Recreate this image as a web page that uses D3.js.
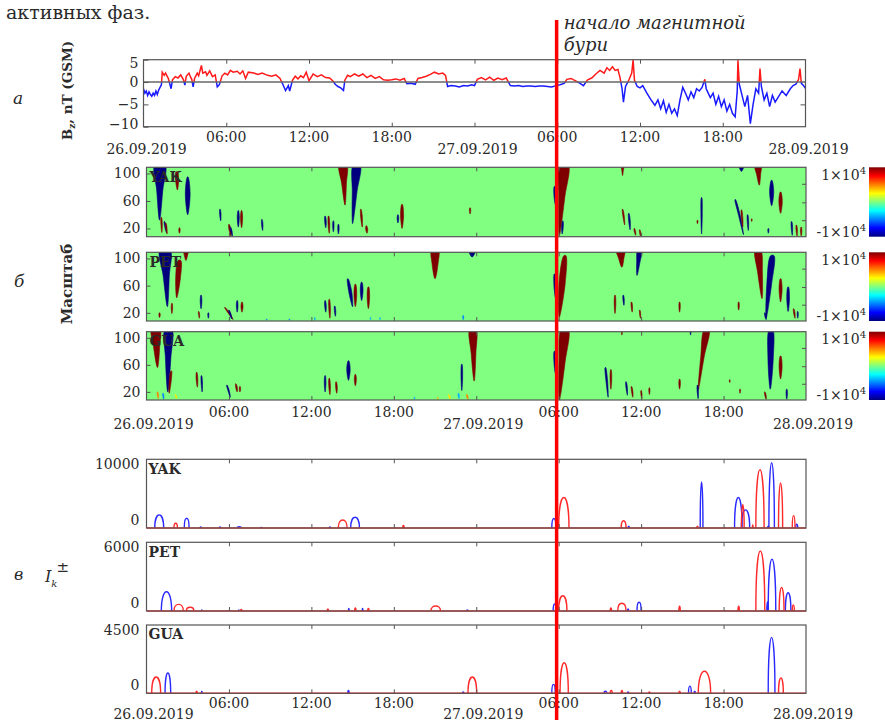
<!DOCTYPE html>
<html>
<head>
<meta charset="utf-8">
<script src="https://cdn.jsdelivr.net/npm/d3@7"></script>
<style>
body { margin: 0; background: #fff; }
svg { display: block; }
text { font-family: "DejaVu Serif", serif; fill: #2a2a2a; }
</style>
</head>
<body>
<svg id="chart" width="885" height="720"></svg>
<script>
// ---- data ----
var hours = [0, 48];
var timeTicks = [6, 12, 18, 30, 36, 42];
var timeLabels = ['06:00', '12:00', '18:00', '06:00', '12:00', '18:00'];
var dateTicks = [0, 24, 48];
var dateLabels = ['26.09.2019', '27.09.2019', '28.09.2019'];
var stations = ['YAK', 'PET', 'GUA'];
var stormStart = 29.85;   // hours from 26.09 00:00

// panel a: Bz, nT (GSM), [hour, value]
var bzTicks = [5, 0, -5, -10];
var bz = [
	[0,-1.5],[0.1,-2.5],[0.2,-2.0],[0.3,-3.0],[0.4,-2.2],[0.5,-2.8],[0.6,-3.2],[0.7,-2.5],[0.8,-3.0],[0.9,-2.0],
	[1.0,-2.8],[1.1,-1.8],[1.2,-1.2],[1.3,-0.6],[1.36,2.2],[1.5,1.5],[1.6,2.0],[1.8,0.8],[2.0,-1.5],[2.1,0.5],
	[2.3,1.2],[2.5,0.9],[2.7,1.6],[2.9,0.5],[3.0,-0.7],[3.1,1.3],[3.3,2.0],[3.4,1.2],[3.5,0.6],[3.6,-1.1],
	[3.7,0.8],[3.9,2.0],[4.0,1.4],[4.2,3.7],[4.3,2.0],[4.5,2.3],[4.6,1.5],[4.8,2.5],[5.0,1.2],[5.2,1.6],
	[5.35,-1.1],[5.5,-0.6],[5.7,1.4],[5.9,2.0],[6.1,1.6],[6.3,2.6],[6.5,2.2],[6.8,2.4],[7.0,1.8],[7.2,2.5],
	[7.4,0.8],[7.6,2.2],[8.0,2.0],[8.3,1.7],[8.6,2.0],[9.0,1.5],[9.3,1.3],[9.6,1.6],[9.9,0.8],[10.1,-0.5],
	[10.3,-1.9],[10.5,-0.8],[10.6,-2.0],[10.8,0.4],[11.0,1.3],[11.2,0.7],[11.4,1.4],[11.6,1.0],[11.8,2.2],[12.0,0.3],
	[12.3,1.8],[12.6,1.2],[12.9,1.6],[13.2,1.0],[13.5,0.9],[13.75,0.2],[13.9,-0.5],[14.1,-1.0],[14.3,-1.3],[14.5,-1.9],
	[14.6,0.4],[14.8,1.5],[15.0,1.2],[15.3,1.8],[15.6,1.3],[15.9,1.8],[16.2,1.0],[16.5,1.5],[16.8,0.8],[17.1,1.2],
	[17.4,0.5],[17.7,0.4],[18.0,0.5],[18.3,0.7],[18.6,0.4],[18.9,0.8],[19.1,-0.4],[19.4,-0.3],[19.7,-0.5],[19.9,0.8],
	[20.2,1.0],[20.5,1.3],[20.8,1.7],[21.1,2.2],[21.4,1.8],[21.7,2.0],[21.9,1.5],[22.05,-1.0],[22.3,-0.8],[22.6,-0.9],
	[22.9,-1.1],[23.2,-0.8],[23.5,-0.9],[23.8,-0.6],[24.0,-0.8],[24.2,0.6],[24.5,1.0],[24.8,0.5],[25.1,1.1],[25.4,0.4],
	[25.7,0.9],[26.0,0.5],[26.3,0.9],[26.6,-0.8],[26.9,-0.9],[27.2,-0.8],[27.5,-1.0],[27.8,-0.9],[28.1,-0.9],[28.4,-1.0],
	[28.7,-0.9],[29.0,-0.9],[29.3,-1.0],[29.6,-1.1],[29.9,-0.8],[30.2,-0.6],[30.5,-0.3],[30.7,0.6],[31.0,0.8],[31.3,0.3],
	[31.6,-0.2],[31.9,-0.8],[32.2,0.5],[32.5,0.9],[32.8,1.8],[33.1,2.6],[33.4,2.0],[33.6,3.2],[33.8,2.6],[34.0,3.4],
	[34.2,2.6],[34.4,2.8],[34.55,1.0],[34.7,-1.5],[34.8,-4.5],[34.95,-1.0],[35.2,0.5],[35.4,2.0],[35.5,4.9],[35.6,0.4],
	[35.8,-1.0],[36.0,-1.3],[36.2,-0.8],[36.5,-2.5],[36.8,-4.0],[37.08,-5.2],[37.3,-4.0],[37.5,-6.0],[37.7,-4.2],[37.9,-6.8],
	[38.1,-5.0],[38.3,-7.0],[38.5,-6.0],[38.7,-7.5],[38.9,-4.0],[39.1,-1.2],[39.3,-2.5],[39.5,-4.0],[39.7,-2.2],[39.9,-3.5],
	[40.1,-1.5],[40.3,-2.0],[40.5,-1.2],[40.7,0.6],[40.8,-1.5],[41.1,-3.5],[41.3,-2.5],[41.5,-5.0],[41.7,-3.2],[41.9,-5.5],
	[42.1,-4.0],[42.3,-6.5],[42.5,-5.0],[42.7,-7.0],[42.9,-7.8],[43.05,-2.0],[43.1,4.9],[43.2,-0.5],[43.4,-3.0],[43.6,-5.5],
	[43.8,-3.0],[44.0,-9.3],[44.2,-5.0],[44.4,-1.5],[44.6,-2.5],[44.7,3.0],[44.8,-1.0],[45.0,-4.0],[45.2,-2.5],[45.4,-5.5],
	[45.6,-3.0],[45.8,-4.5],[46.0,-3.5],[46.3,-2.0],[46.6,-3.0],[46.9,-1.5],[47.1,-0.8],[47.3,-0.5],[47.5,0.6],[47.6,3.0],
	[47.7,-0.3],[47.85,-0.8],[48.0,-1.4]
];

// panel b: wavelet scale spectrograms
// [hour at top, hour at bottom, scale top, scale bottom, width at top (h), width mid (h), value -1..1]
var scaleTicks = [20, 60, 100];
var scaleRightTicks = [32, 58, 85];
var spectroYAK = [
	[0.98,0.95,112,32,0.75,0.45,-1],[2.2,2.25,102,76,0.12,0.22,1],[3.0,3.0,95,40,0.05,0.35,-1],
	[1.08,1.12,36,14,0.03,0.1,1],[1.3,1.45,30,14,0.03,0.1,-1],[1.4,1.5,28,12,0.03,0.08,1],[2.4,2.4,21,13,0.03,0.1,1],
	[5.35,5.4,48,31,0.03,0.1,-1],[6.0,6.15,26,9,0.03,0.15,1],[6.1,6.25,22,9,0.03,0.1,-1],[6.68,6.68,46,22,0.03,0.15,-1],
	[6.92,6.92,46,21,0.03,0.15,1],[8.4,8.45,33,17,0.03,0.1,-1],[13.0,13.05,38,21,0.03,0.12,-1],[13.25,13.3,38,13,0.03,0.12,1],
	[13.6,13.6,31,15,0.03,0.1,-1],[13.97,13.97,26,12,0.03,0.1,-1],[14.3,14.45,112,54,0.55,0.35,1],[15.3,15.0,112,27,0.5,0.35,-1],
	[15.6,15.7,48,22,0.03,0.12,1],[16.0,16.05,24,13,0.03,0.15,1],[18.3,18.3,40,28,0.03,0.12,-1],[18.6,18.6,55,20,0.05,0.22,1],
	[23.55,23.55,50,41,0.03,0.1,1],[29.7,29.75,81,55,0.05,0.15,-1],[30.4,30.05,112,10,0.6,0.45,1],[30.3,30.25,31,12,0.03,0.12,-1],
	[34.65,34.65,112,97,0.2,0.12,1],[34.65,34.8,48,25,0.03,0.1,1],[35.1,35.2,42,18,0.03,0.12,-1],[35.5,35.6,20,10,0.03,0.1,1],
	[35.9,35.95,18,9,0.03,0.08,1],[40.1,40.1,32,27,0.03,0.08,1],[40.4,40.4,65,12,0.03,0.1,-1],[43.3,43.3,112,103,0.5,0.3,-1],
	[44.5,44.6,112,83,0.45,0.3,1],[42.85,43.45,62,11,0.04,0.12,-1],[43.3,43.4,47,22,0.03,0.1,1],[43.75,43.8,40,17,0.03,0.1,-1],
	[44.05,44.05,34,30,0.03,0.06,1],[45.5,45.5,90,53,0.05,0.3,-1],[45.26,45.26,20,13,0.03,0.08,-1],[46.15,46.15,73,42,0.05,0.25,1],
	[46.95,47.0,30,10,0.03,0.1,-1],[47.3,47.35,25,9,0.03,0.1,1],[47.65,47.65,22,9,0.03,0.1,1]
];
var spectroPET = [
	[1.35,1.52,112,29,0.75,0.45,-1],[2.4,2.2,97,42,0.2,0.35,1],[2.87,2.87,112,97,0.35,0.25,1],[1.85,1.85,34,19,0.03,0.1,1],
	[0.95,0.95,20,13,0.03,0.1,1],[3.97,3.97,46,26,0.03,0.12,-1],[3.8,3.85,22,12,0.03,0.08,1],[4.5,4.5,20,12,0.03,0.08,-1],
	[5.7,6.3,28,10,0.03,0.12,1],[6.0,6.2,24,11,0.03,0.1,-1],[6.6,6.6,38,21,0.03,0.12,-1],[6.95,6.95,36,21,0.03,0.15,1],
	[8.75,8.75,11,9,0.03,0.06,-0.5],[10.4,10.4,11,9,0.03,0.06,-0.5],[12.25,12.25,13,9,0.03,0.06,-0.4],[13.0,13.05,38,21,0.03,0.12,-1],
	[13.3,13.35,40,12,0.03,0.12,1],[13.7,13.75,30,15,0.03,0.1,-1],[14.65,15.0,70,29,0.05,0.22,-1],[15.2,15.2,62,29,0.05,0.2,1],
	[15.66,15.66,65,38,0.05,0.2,-1],[16.15,16.15,58,26,0.05,0.18,1],[16.3,16.3,13,10,0.03,0.06,-0.4],[17.0,17.0,13,10,0.03,0.06,-0.4],
	[21.0,21.0,112,70,0.5,0.45,1],[23.7,23.7,112,102,0.6,0.4,-1],[23.05,23.05,16,10,0.03,0.08,-0.5],[29.7,29.75,77,43,0.05,0.15,-1],
	[30.45,30.05,104,14,0.15,0.45,1],[34.5,34.6,112,87,0.6,0.4,1],[35.9,35.7,112,75,0.3,0.25,-1],[34.1,34.1,46,19,0.03,0.12,1],
	[34.7,34.75,46,31,0.03,0.1,-1],[35.3,35.35,36,21,0.03,0.1,1],[35.9,35.95,24,12,0.03,0.08,1],[38.8,38.8,36,21,0.03,0.1,1],
	[43.1,43.1,36,24,0.03,0.1,1],[44.5,44.8,112,41,0.4,0.35,1],[45.55,45.1,104,12,0.25,0.35,-1],[46.15,46.15,70,36,0.05,0.22,1],
	[46.7,46.7,58,22,0.05,0.2,-1],[47.1,47.2,26,12,0.03,0.1,1],[47.4,47.4,22,12,0.03,0.08,-1],[45.0,45.1,20,10,0.03,0.1,-1]
];
var spectroGUA = [
	[0.67,0.8,112,56,0.6,0.45,1],[1.6,1.55,112,20,0.5,0.4,-1],[1.8,1.65,51,18,0.05,0.15,1],[0.8,0.85,20,10,0.03,0.08,0.5],
	[1.2,1.25,18,9,0.03,0.08,-0.5],[2.1,2.2,16,10,0.03,0.08,0.3],[3.65,3.7,49,27,0.03,0.12,1],[4.0,4.05,44,20,0.03,0.1,-1],
	[5.85,6.1,30,12,0.03,0.1,-1],[6.5,6.6,32,20,0.03,0.12,1],[6.8,6.8,28,20,0.03,0.1,1],[13.0,13.0,44,20,0.03,0.12,-1],
	[13.3,13.35,40,16,0.03,0.12,1],[13.8,13.85,35,18,0.03,0.12,1],[14.7,14.7,66,37,0.05,0.25,-1],[15.2,15.2,46,29,0.03,0.15,1],
	[19.5,19.5,12,9,0.03,0.06,-0.4],[21.2,21.2,12,9,0.03,0.06,0.4],[23.75,23.85,112,36,0.45,0.35,1],[22.95,22.95,61,22,0.03,0.12,-1],
	[22.0,22.1,16,9,0.03,0.1,0.3],[22.7,22.75,18,10,0.03,0.1,-0.4],[23.3,23.4,16,9,0.03,0.1,0.5],[29.7,29.75,80,48,0.05,0.15,-1],
	[30.45,30.05,112,8,0.5,0.45,1],[34.6,34.6,112,104,0.06,0.06,1],[39.6,39.6,112,104,0.06,0.06,-1],[33.4,33.6,56,12,0.04,0.12,-1],
	[33.8,33.8,53,24,0.03,0.12,1],[34.9,35.0,35,15,0.03,0.1,-1],[35.3,35.4,28,12,0.03,0.1,1],[36.0,36.05,22,10,0.03,0.08,1],
	[36.6,36.6,26,16,0.03,0.08,1],[38.8,38.8,39,24,0.03,0.12,1],[40.77,40.16,112,23,0.35,0.25,1],[40.1,40.15,30,10,0.03,0.1,-1],
	[42.45,42.45,38,34,0.03,0.06,1],[43.2,43.2,24,18,0.03,0.06,1],[45.45,45.4,112,24,0.25,0.4,-1],[46.15,46.15,73,39,0.05,0.22,1],
	[46.6,46.6,24,9,0.03,0.1,-1],[45.0,45.1,20,9,0.03,0.1,1]
];

// panel c: I_k+- pulses, [start hour, end hour, peak]
var pulseTop = [10000, 6000, 4500];
var yakNeg = [[0.6,1.25,2060],[2.75,3.1,1540],[3.9,4.0,150],[5.3,5.4,150],[6.6,6.9,200],[8.3,8.4,100],[13.3,13.4,150],
	[14.86,15.5,1700],[29.5,29.8,1500],[35.05,35.15,300],[40.3,40.5,7250],[42.8,43.35,4800],[43.3,43.9,2850],
	[45.2,45.3,300],[45.3,45.7,10270],[47.25,47.4,600]];
var yakPos = [[2.0,2.25,750],[13.96,14.6,1270],[18.65,18.75,400],[30.0,30.75,4800],[34.55,34.9,1150],[40.05,40.15,300],
	[43.3,43.5,3650],[44.1,44.15,500],[44.35,44.95,9200],[46.0,46.3,7100],[47.0,47.2,1950]];
var petNeg = [[1.08,1.83,1820],[4.0,4.05,100],[6.7,6.75,100],[14.7,14.75,250],[15.7,15.75,250],[23.3,23.4,100],
	[29.6,29.8,660],[35.0,35.1,200],[35.7,36.0,820],[45.15,45.25,880],[45.25,45.8,4900],[46.5,46.9,1720]];
var petPos = [[2.0,2.68,630],[2.9,3.45,350],[6.85,6.95,150],[13.15,13.25,200],[15.15,15.25,300],[16.1,16.2,250],
	[20.7,21.4,470],[30.0,30.6,1440],[33.75,33.85,300],[34.3,34.9,730],[38.75,38.85,450],[43.05,43.15,450],
	[44.35,45.0,5680],[46.05,46.4,2230],[47.0,47.15,570]];
var guaNeg = [[1.35,1.76,1440],[4.0,4.05,150],[14.65,14.75,200],[23.0,23.1,100],[29.5,29.75,630],[33.3,33.5,150],
	[35.0,35.1,100],[39.45,39.65,510],[39.85,39.95,150],[45.25,45.74,3960]];
var guaPos = [[0.38,1.03,1160],[3.6,3.7,150],[23.4,24.03,1160],[30.1,30.7,2170],[33.75,33.9,200],[34.55,34.65,200],
	[36.55,36.65,100],[38.75,38.85,150],[40.16,41.06,1560],[46.0,46.35,1090]];

// ---- layout ----
var svg = d3.select('#chart');
var defs = svg.append('defs');

var xA = d3.scaleLinear().domain(hours).range([143.5, 805.5]);
var x = d3.scaleLinear().domain(hours).range([146.5, 806]);
var yA = d3.scaleLinear().domain([-10, 5]).range([126.7, 59.7]);

var spectroRows = [[167.3, 236.7], [252.3, 321], [331.7, 400]];
var pulseRows = [[459.3, 528], [542.3, 611], [625, 693.3]];
var spectroData = [spectroYAK, spectroPET, spectroGUA];
var pulseNeg = [yakNeg, petNeg, guaNeg];
var pulsePos = [yakPos, petPos, guaPos];

var jet = d3.scaleLinear()
	.domain([-1, -0.75, -0.25, 0.25, 0.75, 1])
	.range(['#00007f', '#0000ff', '#00ffff', '#ffff00', '#ff0000', '#7f0000']);

var frameColor = '#555';
var redLine = '#ff2a2a', blueLine = '#2a2aff';

function innerTimeTicks(g, xs, top, bottom) {
	var all = timeTicks.concat([24]);
	g.append('g').attr('transform', 'translate(0,' + top + ')')
		.call(d3.axisTop(xs).tickValues(all).tickSize(-4).tickFormat(''))
		.call(function(a) { a.select('.domain').remove(); a.selectAll('line').attr('stroke', frameColor); });
	g.append('g').attr('transform', 'translate(0,' + bottom + ')')
		.call(d3.axisBottom(xs).tickValues(all).tickSize(-4).tickFormat(''))
		.call(function(a) { a.select('.domain').remove(); a.selectAll('line').attr('stroke', frameColor); });
}

function timeLabelRows(g, xs, timeY, dateY, dateShift) {
	g.selectAll('.tlab').data(timeTicks).enter().append('text')
		.attr('class', 'tlab')
		.attr('x', function(d) { return xs(d); })
		.attr('y', timeY)
		.attr('text-anchor', 'middle')
		.style('font-size', '14px')
		.text(function(d, i) { return timeLabels[i]; });
	g.selectAll('.dlab').data(dateTicks).enter().append('text')
		.attr('class', 'dlab')
		.attr('x', function(d) { return xs(d) + dateShift; })
		.attr('y', dateY)
		.attr('text-anchor', 'middle')
		.style('font-size', '14px')
		.text(function(d, i) { return dateLabels[i]; });
}

function frame(g, xs, top, bottom) {
	g.append('rect')
		.attr('x', xs.range()[0]).attr('y', top)
		.attr('width', xs.range()[1] - xs.range()[0]).attr('height', bottom - top)
		.attr('fill', 'none').attr('stroke', frameColor).attr('stroke-width', 1.2);
}

function clipRect(id, x0, y0, w, h) {
	defs.append('clipPath').attr('id', id).append('rect')
		.attr('x', x0).attr('y', y0).attr('width', w).attr('height', h);
	return 'url(#' + id + ')';
}

// ---- header text ----
svg.append('text').attr('x', 6).attr('y', 19).style('font-size', '19px').text('активных фаз.');

// ---- panel a: Bz ----
var gA = svg.append('g');
var aTop = yA.range()[1], aBot = yA.range()[0];
var aLeft = xA.range()[0], aW = xA.range()[1] - xA.range()[0];

var bzLine = d3.line()
	.x(function(d) { return xA(d[0]); })
	.y(function(d) { return yA(d[1]); });

gA.append('path').datum(bz)
	.attr('d', bzLine)
	.attr('fill', 'none').attr('stroke', '#ff1a1a').attr('stroke-width', 1.5)
	.attr('clip-path', clipRect('bzPos', aLeft, aTop, aW, yA(0) - aTop));
gA.append('path').datum(bz)
	.attr('d', bzLine)
	.attr('fill', 'none').attr('stroke', '#1a1aff').attr('stroke-width', 1.5)
	.attr('clip-path', clipRect('bzNeg', aLeft, yA(0), aW, aBot - yA(0)));

gA.append('line')
	.attr('x1', aLeft).attr('x2', aLeft + aW)
	.attr('y1', yA(0)).attr('y2', yA(0))
	.attr('stroke', '#666').attr('stroke-width', 1.5);

gA.append('g').attr('transform', 'translate(' + aLeft + ',0)')
	.call(d3.axisLeft(yA).tickValues(bzTicks).tickSize(-5).tickPadding(5).tickFormat(d3.format('d')))
	.call(function(a) {
		a.select('.domain').remove();
		a.selectAll('line').attr('stroke', frameColor);
		a.selectAll('text').style('font-size', '14px').attr('fill', '#2a2a2a')
			.style('font-family', '"DejaVu Serif", serif')
			.attr('dy', function(d) { return d === 5 ? '0.58em' : d === -10 ? '0.13em' : '0.32em'; });
	});
gA.append('g').attr('transform', 'translate(' + (aLeft + aW) + ',0)')
	.call(d3.axisRight(yA).tickValues([-5]).tickSize(-5).tickFormat(''))
	.call(function(a) { a.select('.domain').remove(); a.selectAll('line').attr('stroke', frameColor); });

innerTimeTicks(gA, xA, aTop, aBot);
frame(gA, xA, aTop, aBot);
timeLabelRows(gA, xA, 141.7, 154, 3);

svg.append('text')
	.attr('transform', 'translate(72,90.5) rotate(-90)')
	.attr('text-anchor', 'middle')
	.style('font-size', '13.5px').style('font-weight', 'bold')
	.call(function(t) {
		t.append('tspan').text('B');
		t.append('tspan').attr('dy', 3).style('font-size', '9px').text('z');
		t.append('tspan').attr('dy', -3).text(', nT (GSM)');
	});
svg.append('text').attr('x', 13).attr('y', 104)
	.style('font-size', '17px').style('font-style', 'italic').text('а');

// ---- panel b: spectrograms ----
var grad = defs.append('linearGradient').attr('id', 'jetGrad')
	.attr('x1', 0).attr('y1', 1).attr('x2', 0).attr('y2', 0);
grad.selectAll('stop').data(d3.range(0, 1.0001, 0.125)).enter().append('stop')
	.attr('offset', function(d) { return d; })
	.attr('stop-color', function(d) { return jet(-1 + 2 * d); });

var blobLine = d3.line()
	.curve(d3.curveCatmullRomClosed.alpha(0.5));

function blobOutline(b, ys) {
	var tm = (b[0] + b[1]) / 2, sm = b[2] - (b[2] - b[3]) * 0.45;
	return [[b[0] - b[4] / 2, b[2]], [b[0] + b[4] / 2, b[2]], [tm + b[5] / 2, sm], [b[1], b[3]], [tm - b[5] / 2, sm]]
		.map(function(p) { return [x(p[0]), ys(p[1])]; });
}

spectroRows.forEach(function(row, i) {
	var top = row[0], bottom = row[1];
	var ys = d3.scaleLinear().domain([8, 109]).range([bottom, top]);
	var g = svg.append('g');
	var x0 = x.range()[0], w = x.range()[1] - x.range()[0];
	var clip = g.append('g').attr('clip-path', clipRect('sp' + i, x0, top, w, bottom - top));

	clip.append('rect').attr('x', x0).attr('y', top).attr('width', w).attr('height', bottom - top)
		.attr('fill', jet(0));
	clip.selectAll('.blob').data(spectroData[i]).enter().append('path')
		.attr('class', 'blob')
		.attr('d', function(d) { return blobLine(blobOutline(d, ys)); })
		.attr('fill', function(d) { return jet(d[6]); })
		.attr('stroke', function(d) { return jet(d[6]); })
		.attr('stroke-width', 0.6);

	g.append('g').attr('transform', 'translate(' + x0 + ',0)')
		.call(d3.axisLeft(ys).tickValues(scaleTicks).tickSize(-4).tickPadding(6))
		.call(function(a) {
			a.select('.domain').remove();
			a.selectAll('line').attr('stroke', frameColor);
			a.selectAll('text').style('font-size', '14px').attr('fill', '#2a2a2a')
				.style('font-family', '"DejaVu Serif", serif');
		});
	g.append('g').attr('transform', 'translate(' + (x0 + w) + ',0)')
		.call(d3.axisRight(ys).tickValues(scaleRightTicks).tickSize(-4).tickFormat(''))
		.call(function(a) { a.select('.domain').remove(); a.selectAll('line').attr('stroke', frameColor); });

	innerTimeTicks(g, x, top, bottom);
	frame(g, x, top, bottom);

	g.append('text').attr('x', x0 + 3).attr('y', top + 14.4)
		.style('font-size', '14px').style('font-weight', 'bold').attr('fill', '#111')
		.text(stations[i]);

	// colour bar
	g.append('rect').attr('x', 869).attr('y', top).attr('width', 20).attr('height', bottom - top)
		.attr('fill', 'url(#jetGrad)');
	[['1×10', top + 12.7], ['-1×10', bottom]].forEach(function(l) {
		g.append('text').attr('x', 866).attr('y', l[1]).attr('text-anchor', 'end')
			.style('font-size', '14px')
			.call(function(t) {
				t.append('tspan').text(l[0]);
				t.append('tspan').attr('dy', -6).style('font-size', '10px').text('4');
			});
	});
});

timeLabelRows(svg.append('g'), x, 416.7, 428.5, 7);

svg.append('text')
	.attr('transform', 'translate(72,284) rotate(-90)')
	.attr('text-anchor', 'middle')
	.style('font-size', '15px').style('font-weight', 'bold')
	.text('Масштаб');
svg.append('text').attr('x', 14).attr('y', 287)
	.style('font-size', '17px').style('font-style', 'italic').text('б');

// ---- panel c: I_k pulses ----
pulseRows.forEach(function(row, i) {
	var top = row[0], bottom = row[1];
	var labelTop = pulseTop[i];
	// label of the top value sits ~63.5 px above the baseline
	var ys = d3.scaleLinear().domain([0, labelTop * (bottom - top) / 63.5]).range([bottom, top]);
	var g = svg.append('g');
	var x0 = x.range()[0], w = x.range()[1] - x.range()[0];
	var clip = g.append('g').attr('clip-path', clipRect('pc' + i, x0, top, w, bottom - top + 2));

	function arch(p) {
		var path = d3.path();
		path.moveTo(x(p[0]), ys(0));
		path.bezierCurveTo(x(p[0]), ys(p[2] * 4 / 3), x(p[1]), ys(p[2] * 4 / 3), x(p[1]), ys(0));
		return path.toString();
	}

	innerTimeTicks(g, x, top, bottom);
	frame(g, x, top, bottom);

	clip.selectAll('.neg').data(pulseNeg[i]).enter().append('path')
		.attr('class', 'neg')
		.attr('d', arch)
		.attr('fill', 'none').attr('stroke', blueLine).attr('stroke-width', 1.4);
	clip.selectAll('.pos').data(pulsePos[i]).enter().append('path')
		.attr('class', 'pos')
		.attr('d', arch)
		.attr('fill', 'none').attr('stroke', redLine).attr('stroke-width', 1.4);
	clip.append('line')
		.attr('x1', x0).attr('x2', x0 + w)
		.attr('y1', ys(0)).attr('y2', ys(0))
		.attr('stroke', redLine).attr('stroke-width', 1.6);

	g.append('g').attr('transform', 'translate(' + x0 + ',0)')
		.call(d3.axisLeft(ys).tickValues([0, labelTop]).tickSize(0).tickPadding(7).tickFormat(d3.format('d')))
		.call(function(a) {
			a.select('.domain').remove();
			a.selectAll('text').style('font-size', '14px').attr('fill', '#2a2a2a')
				.style('font-family', '"DejaVu Serif", serif')
				.attr('dy', function(d) { return d === 0 ? '-0.25em' : '0.32em'; });
		});

	g.append('text').attr('x', x0 + 2).attr('y', top + 14.2)
		.style('font-size', '14px').style('font-weight', 'bold').attr('fill', '#111')
		.text(stations[i]);
});

timeLabelRows(svg.append('g'), x, 708, 718.5, 7);

svg.append('text').attr('x', 14).attr('y', 580)
	.style('font-size', '16px').style('font-style', 'italic').text('в');
svg.append('text').attr('x', 45).attr('y', 582)
	.style('font-size', '16px').style('font-style', 'italic')
	.call(function(t) {
		t.append('tspan').text('I');
		t.append('tspan').attr('dy', 5).style('font-size', '10px').text('k');
		t.append('tspan').attr('dy', -15).attr('dx', -1).style('font-size', '15px').style('font-style', 'normal').text('±');
	});

// ---- storm onset marker ----
svg.append('line')
	.attr('x1', x(stormStart)).attr('x2', x(stormStart))
	.attr('y1', 20).attr('y2', 720)
	.attr('stroke', '#ff0000').attr('stroke-width', 3.5);
svg.append('text').attr('x', x(stormStart) + 7).attr('y', 29)
	.style('font-size', '18px').style('font-style', 'italic').attr('fill', '#f02828')
	.text('начало магнитной');
svg.append('text').attr('x', x(stormStart) + 7).attr('y', 51)
	.style('font-size', '18px').style('font-style', 'italic').attr('fill', '#f02828')
	.text('бури');
</script>
</body>
</html>
